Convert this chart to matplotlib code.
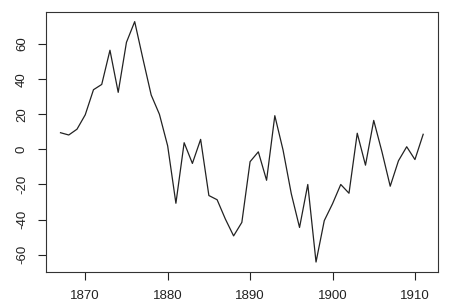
import matplotlib
matplotlib.use("Agg")
import matplotlib.pyplot as plt
import numpy as np

# yearly series (1867-1911)
years = np.arange(1867, 1912)
values = [9.5, 8.2, 11.5, 19.7, 34.0, 37.0, 56.5, 32.5, 61.0, 72.8,
          51.6, 31.0, 20.0, 2.0, -30.7, 3.8, -8.0, 5.7, -26.3, -28.7,
          -39.7, -49.3, -41.6, -7.0, -1.4, -17.6, 19.2, -0.4, -25.3, -44.5,
          -20.0, -64.2, -40.6, -31.0, -20.0, -25.0, 9.2, -9.0, 16.5, -1.4,
          -21.0, -6.5, 1.5, -5.8, 8.6]
xticks = [1870, 1880, 1890, 1900, 1910]
yticks = [-60, -40, -20, 0, 20, 40, 60]

plt.rcParams['font.family'] = ['Liberation Sans', 'DejaVu Sans']

fig = plt.figure(figsize=(4.6, 3.08), dpi=100)
ax = fig.add_axes([0.1, 0.118, 0.8515, 0.843])

ax.plot(years, values, color='#222222', lw=0.9)


# R-style axis ranges: data range widened by 4% on each side
def r_range(v):
    lo, hi = min(v), max(v)
    d = (hi - lo) * 0.04
    return lo - d, hi + d


ax.set_xlim(*r_range(years))
ax.set_ylim(*r_range(values))
ax.set_xticks(xticks)
ax.set_yticks(yticks)
ax.set_yticklabels([str(t) for t in yticks], rotation=90, va='center')
ax.tick_params(axis='both', direction='out', length=6, width=0.8,
               pad=7, labelsize=9.5, colors='#222222')

for s in ax.spines.values():
    s.set_linewidth(0.8)
    s.set_color('#333333')

fig.savefig('out.png', dpi=100)
